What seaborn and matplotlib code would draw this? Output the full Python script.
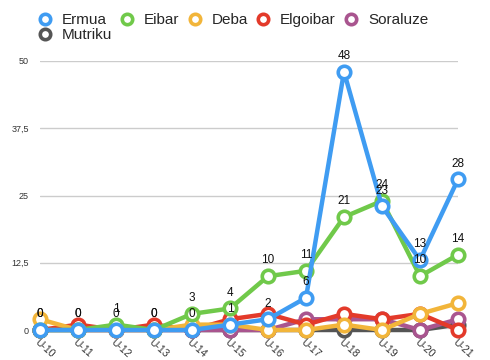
import numpy as np
import pandas as pd
import seaborn as sns
import matplotlib
matplotlib.use("Agg")
import matplotlib.pyplot as plt
from matplotlib.lines import Line2D

categories = ["U-10", "U-11", "U-12", "U-13", "U-14", "U-15", "U-16", "U-17", "U-18", "U-19", "U-20", "U-21"]
ermua    = [0, 0, 0, 0, 0, 1, 2, 6, 48, 23, 13, 28]
eibar    = [0, 0, 1, 0, 3, 4, 10, 11, 21, 24, 10, 14]
deba     = [2, 0, 0, 0, 1, 1, 0, 0, 1, 0, 3, 5]
elgoibar = [0, 1, 0, 1, 0, 2, 3, 1, 3, 2, 3, 0]
soraluze = [0, 0, 0, 0, 0, 0, 0, 2, 2, 2, 0, 2]
mutriku  = [0, 0, 0, 0, 0, 0, 0, 0, 0, 0, 0, 1]

series = {"Ermua": ermua, "Eibar": eibar, "Deba": deba,
          "Elgoibar": elgoibar, "Soraluze": soraluze, "Mutriku": mutriku}
colors = {"Ermua": "#3f9cf2", "Eibar": "#70c94a", "Deba": "#f2b53a",
          "Elgoibar": "#e33a2a", "Soraluze": "#a9558f", "Mutriku": "#555555"}
labeled = ["Ermua", "Eibar"]

rows = []
for name, vals in series.items():
    for i, v in enumerate(vals):
        rows.append({"team": name, "idx": i, "cat": categories[i], "value": v})
df = pd.DataFrame(rows)

sns.set_theme(style="white")
plt.rcParams["font.family"] = ["Liberation Sans", "DejaVu Sans"]

fig = plt.figure(figsize=(4.9, 3.6), dpi=100)
ax = fig.add_axes([40/490, 1-330/360, (458-40)/490, (330-61)/360])

draw_order = ["Mutriku", "Soraluze", "Elgoibar", "Deba", "Eibar", "Ermua"]
for z, name in enumerate(draw_order):
    sub = df[df.team == name]
    sns.lineplot(data=sub, x="idx", y="value", ax=ax, color=colors[name],
                 linewidth=3.2, marker="o", markersize=9, markerfacecolor="white",
                 markeredgecolor=colors[name], markeredgewidth=2.6,
                 clip_on=False, zorder=3 + z, legend=False)

for name in labeled:
    for i, v in enumerate(series[name]):
        ax.annotate(str(v), (i, v), xytext=(0, 7), textcoords="offset points",
                    ha="center", va="bottom", fontsize=8.5, color="#111111", zorder=20)

ax.set_xlim(0, len(categories) - 1)
ax.set_ylim(0, 50)
ax.set_yticks([0, 12.5, 25, 37.5, 50])
ax.set_yticklabels(["0", "12,5", "25", "37,5", "50"], fontsize=6.5, color="#333333")
ax.set_xticks(range(len(categories)))
ax.set_xticklabels(categories, rotation=-42, ha="left", va="top",
                   rotation_mode="anchor", fontsize=7.5, color="#333333")
ax.tick_params(axis="x", pad=5, length=0)
ax.tick_params(axis="y", pad=8, length=0)
ax.grid(axis="y", color="#cccccc", linewidth=1)
ax.set_axisbelow(True)
for s in ax.spines.values():
    s.set_visible(False)
ax.set_xlabel("")
ax.set_ylabel("")

legend_order = ["Ermua", "Mutriku", "Eibar", "Deba", "Elgoibar", "Soraluze"]
handles = [Line2D([], [], linestyle="none", marker="o", markersize=7.5,
                  markerfacecolor="white", markeredgecolor=colors[n],
                  markeredgewidth=2.6) for n in legend_order]
fig.legend(handles, legend_order, loc="upper left", bbox_to_anchor=(28/490, 1 - 4/360),
           ncol=5, frameon=False, fontsize=11, handletextpad=0.6,
           columnspacing=0.5, labelspacing=0.05, borderaxespad=0.2, handlelength=1.0)

fig.savefig("out.png", dpi=100)
